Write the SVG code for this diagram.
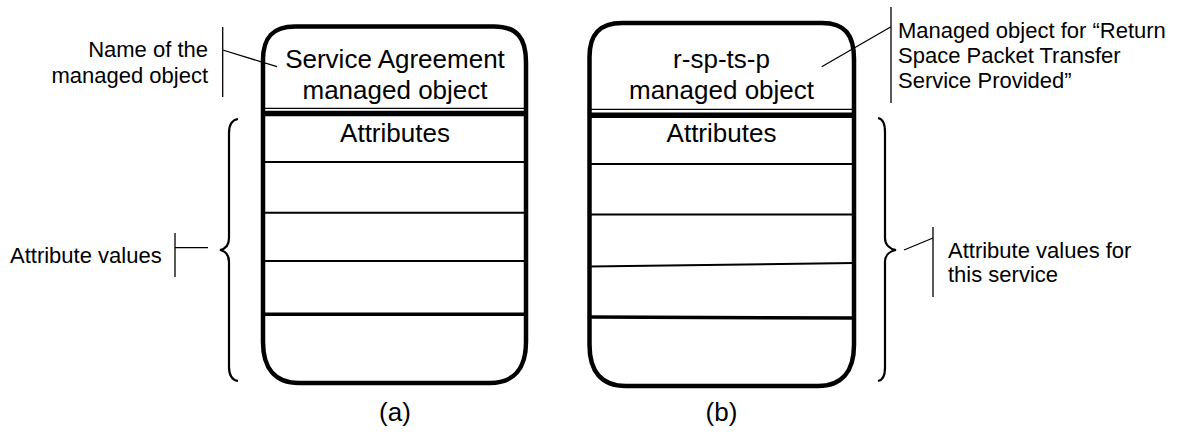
<svg xmlns="http://www.w3.org/2000/svg" width="1183" height="436" viewBox="0 0 1183 436">
<style>
.box{fill:none;stroke:#000;stroke-width:4.5;stroke-linejoin:round}
.row{stroke:#000;stroke-width:2}
.rowb{stroke:#000;stroke-width:3.5}
.thin{stroke:#000;stroke-width:1.3}
.thick{stroke:#000;stroke-width:5.5}
.lead{fill:none;stroke:#000;stroke-width:1.3}
.brace{fill:none;stroke:#000;stroke-width:2.2}
.bt{font-family:"Liberation Sans",Arial,Helvetica,sans-serif;font-size:26px;fill:#000;text-anchor:middle}
.lt{font-family:"Liberation Sans",Arial,Helvetica,sans-serif;font-size:22px;fill:#000}
</style>
<rect width="1183" height="436" fill="#fff"/>
<g id="box-a">
<path class="box" d="M263,60 C263,38 272,26.5 295,26.5 L494,26.5 C517,26.5 526,38 526,62 L526,342 C526,368 514,383 490,383 L299,383 C275,383 263,368 263,342 Z"/>
<line class="thin" x1="263" y1="108.3" x2="526" y2="108.3"/>
<line class="thick" x1="263" y1="113.5" x2="526" y2="113.5"/>
<line class="row" x1="263" y1="162" x2="526" y2="162"/>
<line class="row" x1="263" y1="212.7" x2="526" y2="212.7"/>
<line class="row" x1="263" y1="261" x2="526" y2="261"/>
<line class="rowb" x1="263" y1="314.3" x2="526" y2="314.3"/>
<text class="bt" x="395" y="68">Service Agreement</text>
<text class="bt" x="395" y="99">managed object</text>
<text class="bt" x="395" y="141.5">Attributes</text>
<text class="bt" x="395" y="421">(a)</text>
</g>
<g id="box-b">
<path class="box" d="M589.5,57 C589.5,35 599,23 622,23 L822,23 C845,23 854,35 854,59 L854,345 C854,371 842,386 818,386 L626,386 C601,386 589.5,371 589.5,345 Z"/>
<line class="thin" x1="589.5" y1="109.3" x2="854" y2="109.3"/>
<line class="thick" x1="589.5" y1="115.2" x2="854" y2="115.2"/>
<line class="row" x1="589.5" y1="164" x2="854" y2="164"/>
<line class="row" x1="589.5" y1="214.5" x2="854" y2="214.5"/>
<line class="row" x1="589.5" y1="266.5" x2="854" y2="263"/>
<line class="rowb" x1="589.5" y1="317" x2="854" y2="318"/>
<text class="bt" x="721.5" y="68">r-sp-ts-p</text>
<text class="bt" x="721.5" y="99">managed object</text>
<text class="bt" x="721.5" y="141.5">Attributes</text>
<text class="bt" x="721.5" y="421">(b)</text>
</g>
<g id="label-name">
<text class="lt" x="208" y="57" text-anchor="end">Name of the</text>
<text class="lt" x="208" y="83" text-anchor="end">managed object</text>
</g>
<g id="label-managed">
<text class="lt" x="898" y="38">Managed object for “Return</text>
<text class="lt" x="898" y="63">Space Packet Transfer</text>
<text class="lt" x="898" y="88">Service Provided”</text>
</g>
<g id="label-values-a">
<text class="lt" x="10" y="263">Attribute values</text>
</g>
<g id="label-values-b">
<text class="lt" x="948" y="258">Attribute values for</text>
<text class="lt" x="948" y="282">this service</text>
</g>
<g id="brace-a">
<path class="brace" d="M238,119 C232,120 229,125 229,133 L229,238 C229,245 225,249 220,250 C225,251 229,255 229,262 L229,367 C229,375 232,380 238,381"/>
</g>
<g id="brace-b">
<path class="brace" d="M878,118 C883,119 885,124 885,132 L885,238 C885,245 890,249 896,250 C890,251 885,255 885,262 L885,368 C885,376 883,380 878,381"/>
</g>
<g id="connectors">
<line class="lead" x1="222.7" y1="27" x2="222.7" y2="97"/>
<line class="lead" x1="222.7" y1="50" x2="277" y2="66.7"/>
<line class="lead" x1="891" y1="7" x2="891" y2="103"/>
<line class="lead" x1="891" y1="26.7" x2="821.7" y2="66.7"/>
<line class="lead" x1="175" y1="233" x2="175" y2="277"/>
<line class="lead" x1="175" y1="247.7" x2="208" y2="247.7"/>
<line class="lead" x1="933" y1="227" x2="933" y2="297"/>
<line class="lead" x1="933" y1="238" x2="904" y2="250"/>
</g>
</svg>
